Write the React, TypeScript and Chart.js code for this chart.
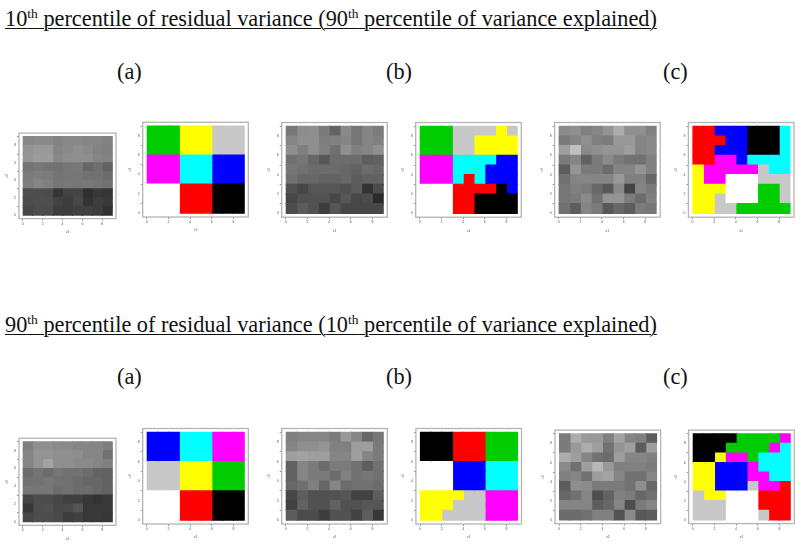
import React, { useEffect, useRef } from "react";
import { Chart, registerables } from "chart.js";

Chart.register(...registerables);

const clusterColors: Record<string, string> = {
  G: "#00cd00", Y: "#ffff00", S: "#c8c8c8", M: "#ff00ff", C: "#00ffff",
  B: "#0000ff", W: "#ffffff", R: "#ff0000", K: "#000000",
};

const greyTopA = [
  [136,138,138,130,136,136,133,133,130],
  [148,153,153,133,138,143,138,130,128],
  [148,156,156,136,143,143,143,133,130],
  [116,120,116,113,118,120,103,110,98],
  [123,126,123,116,118,118,113,113,108],
  [126,133,128,118,120,118,120,116,113],
  [78,78,76,54,68,68,48,56,54],
  [76,78,78,66,61,71,51,61,56],
  [71,78,76,61,61,64,64,61,48],
];
const greyTopB = [
  [120,141,143,123,100,138,118,133,123],
  [133,143,143,126,128,133,118,133,128],
  [143,128,143,128,113,143,128,133,143],
  [113,118,103,88,108,108,108,93,98],
  [118,113,108,108,108,103,98,108,103],
  [113,103,103,98,98,103,93,98,98],
  [81,71,86,86,86,81,91,51,76],
  [71,81,81,81,71,86,71,76,41],
  [76,91,81,61,86,71,71,71,71],
];
const greyTopC = [
  [138,143,128,133,148,173,143,143,128],
  [123,133,143,128,123,153,153,133,138],
  [158,193,138,143,148,148,158,133,138],
  [123,133,98,123,138,123,113,113,128],
  [93,148,123,123,108,133,133,148,128],
  [113,133,133,133,133,153,128,128,103],
  [118,128,123,103,88,138,68,133,123],
  [118,123,138,113,148,148,123,108,128],
  [113,93,133,123,88,103,93,123,118],
];
const greyBottomA = [
  [128,143,143,138,138,133,133,133,126],
  [133,148,148,143,143,143,133,133,113],
  [133,148,163,143,143,138,138,133,128],
  [108,116,108,118,113,113,108,98,98],
  [113,113,118,113,113,108,103,103,98],
  [120,118,118,108,113,108,108,103,98],
  [68,76,76,71,64,64,56,51,56],
  [54,78,81,71,74,84,56,56,56],
  [71,78,78,74,61,64,56,56,54],
];
const greyBottomB = [
  [128,133,133,133,123,153,133,103,118],
  [133,143,143,148,128,128,158,158,123],
  [158,163,158,158,133,133,158,133,123],
  [98,133,123,108,123,123,113,93,113],
  [98,133,123,123,108,128,113,118,113],
  [103,113,128,103,133,108,113,113,108],
  [71,93,81,81,81,86,66,66,93],
  [66,98,81,81,98,81,81,86,86],
  [93,76,76,61,81,81,66,93,56],
];
const greyBottomC = [
  [123,173,153,153,128,163,133,128,93],
  [123,153,173,158,113,148,158,93,158],
  [173,158,133,113,108,158,133,133,128],
  [138,113,158,183,153,128,128,128,123],
  [128,133,113,158,163,133,113,113,133],
  [93,143,138,123,123,123,113,143,103],
  [103,113,133,78,98,128,123,103,113],
  [133,133,133,93,103,133,78,123,133],
  [108,108,113,128,128,83,138,88,93],
];

const clusterTopA = ["GGGYYYSSS","GGGYYYSSS","GGGYYYSSS","MMMCCCBBB","MMMCCCBBB","MMMCCCBBB","WWWRRRKKK","WWWRRRKKK","WWWRRRKKK"];
const clusterTopB = ["GGGSSSSYS","GGGSSYYYY","GGGSSYYYY","MMMCCCCBB","MMMCCCBBB","MMMCRCBBB","WWWRRRRKB","WWWRRKKKK","WWWRRKKKK"];
const clusterTopC = ["RRBBBKKKC","RRRBBKKKC","RRBBBKKKC","RRMMBCCCC","YMMMMMSCC","YMMWWWSSS","YYYWWWGGS","YYSWWWGGS","YYSSGGGGG"];
const clusterBottomA = ["BBBCCCMMM","BBBCCCMMM","BBBCCCMMM","SSSYYYGGG","SSSYYYGGG","SSSYYYGGG","WWWRRRKKK","WWWRRRKKK","WWWRRRKKK"];
const clusterBottomB = ["KKKRRRGGG","KKKRRRGGG","KKKRRRGGG","WWWBBBCCC","WWWBBBCCC","WWWBBBCCC","YYYYSSMMM","YYYSSSMMM","YYSSSSMMM"];
const clusterBottomC = ["KKKKGGGGM","KKKGGGGMC","KKYMMGCCC","YYBBBMCCC","YYBBBMMCC","YYBBBSMMR","SYYWWWRRR","SSSWWWRRR","SSSWWWSRR"];

const greyColors = (rows: number[][]) => rows.map((r) => r.map((v) => `rgb(${v},${v},${v})`));
const clusterGrid = (rows: string[]) => rows.map((r) => r.split("").map((c) => clusterColors[c]));

const panels = [
  { colors: greyColors(greyTopA), frame: [19, 133, 97, 85.6] },
  { colors: clusterGrid(clusterTopA), frame: [142.7, 122.3, 105.6, 94.7] },
  { colors: greyColors(greyTopB), frame: [281.7, 122.5, 105.6, 94.7] },
  { colors: clusterGrid(clusterTopB), frame: [415.7, 122.5, 105.6, 94.7] },
  { colors: greyColors(greyTopC), frame: [554.6, 122.5, 105.6, 94.7] },
  { colors: clusterGrid(clusterTopC), frame: [688.4, 122.5, 105.6, 94.7] },
  { colors: greyColors(greyBottomA), frame: [19, 438.3, 97, 87] },
  { colors: clusterGrid(clusterBottomA), frame: [142.7, 428.5, 105.6, 95.5] },
  { colors: greyColors(greyBottomB), frame: [281.7, 428.5, 105.6, 95.5] },
  { colors: clusterGrid(clusterBottomB), frame: [415.9, 428.5, 105.6, 95.5] },
  { colors: greyColors(greyBottomC), frame: [555, 430, 105.6, 93.6] },
  { colors: clusterGrid(clusterBottomC), frame: [688.7, 430, 105.6, 93.6] },
];

const framePlugin = {
  id: "frame",
  afterDraw(chart: any) {
    const { left, top, width, height } = chart.chartArea;
    const c = chart.ctx;
    c.save();
    c.strokeStyle = "#b4b4b4";
    c.lineWidth = 1.3;
    c.strokeRect(left, top, width, height);
    c.restore();
  },
};

function Panel({ colors, frame }: { colors: string[][]; frame: number[] }) {
  const ref = useRef<HTMLCanvasElement>(null);
  const [fx, fy, fw, fh] = frame;
  const left = Math.floor(fx - 14);
  const top = Math.floor(fy - 3);
  const width = Math.ceil(fx + fw + 3) - left;
  const height = Math.min(544 - top, Math.ceil(fy + fh + 15) - top);
  useEffect(() => {
    const datasets = Array.from({ length: 9 }, (_, col) => ({
      data: colors.map((_r, row) => ({ x: 1, y: 8.5 - row })),
      backgroundColor: colors.map((r) => r[col]),
      barPercentage: 1,
      categoryPercentage: 1,
      borderWidth: 0,
      inflateAmount: 0.6,
    }));
    const tickFont = { size: 3.5, family: "Liberation Sans" };
    const axisLines = { display: true, drawOnChartArea: false, drawTicks: true, tickLength: 2, tickColor: "#666666", tickWidth: 0.7 };
    const chart = new Chart(ref.current!, {
      type: "bar",
      data: { datasets } as any,
      plugins: [framePlugin],
      options: {
        indexAxis: "y",
        animation: false,
        responsive: false,
        maintainAspectRatio: false,
        layout: { padding: { left: 0, bottom: 0, top: fy - top, right: left + width - fx - fw } },
        plugins: { legend: { display: false }, tooltip: { enabled: false } },
        scales: {
          x: {
            type: "linear", stacked: true, min: -0.38, max: 9.38, offset: false,
            grid: axisLines, border: { display: false },
            ticks: { stepSize: 2, includeBounds: false, autoSkip: false, maxRotation: 0, font: tickFont, color: "#555555", padding: 1 },
            title: { display: true, text: "v1", font: tickFont, color: "#555555", padding: 0 },
            afterFit: (s: any) => { s.height = height - (fy - top) - fh; },
          },
          y: {
            type: "linear", stacked: true, min: -0.4, max: 9.4, offset: false,
            grid: axisLines, border: { display: false },
            ticks: { stepSize: 2, includeBounds: false, autoSkip: false, font: tickFont, color: "#555555", padding: 1 },
            title: { display: true, text: "v2", font: tickFont, color: "#555555", padding: 0 },
            afterFit: (s: any) => { s.width = fx - left; },
          },
        },
      } as any,
    });
    return () => chart.destroy();
  }, []);
  return (
    <canvas
      ref={ref}
      width={width}
      height={height}
      style={{ position: "absolute", left, top, width, height }}
    />
  );
}

const serif: React.CSSProperties = {
  position: "absolute",
  fontFamily: "'Liberation Serif', serif",
  color: "#111",
  whiteSpace: "nowrap",
  lineHeight: "24px",
  margin: 0,
};
const sup: React.CSSProperties = { fontSize: 13.5, verticalAlign: "baseline", position: "relative", top: -8, lineHeight: 0 };

const titles = [
  { top: 7, first: "10", second: "90" },
  { top: 313, first: "90", second: "10" },
];
const letterTops = [60, 365];
const letters = [
  { text: "(a)", left: 117 },
  { text: "(b)", left: 386 },
  { text: "(c)", left: 663 },
];

export default function App() {
  return (
    <div style={{ position: "absolute", left: 0, top: 0, width: 800, height: 544, background: "#fff", overflow: "hidden", filter: "blur(0.45px)" }}>
      {titles.map((t) => (
        <div key={t.top} style={{ ...serif, left: 5, top: t.top, fontSize: 22.3, textDecoration: "underline", textDecorationThickness: 1, textUnderlineOffset: 2 }}>
          {t.first}<span style={sup}>th</span> percentile of residual variance ({t.second}<span style={sup}>th</span> percentile of variance explained)
        </div>
      ))}
      {letterTops.map((top) =>
        letters.map((l) => (
          <div key={top + l.text} style={{ ...serif, left: l.left, top, fontSize: 22.3 }}>{l.text}</div>
        ))
      )}
      {panels.map((p, i) => (
        <Panel key={i} colors={p.colors} frame={p.frame} />
      ))}
    </div>
  );
}
